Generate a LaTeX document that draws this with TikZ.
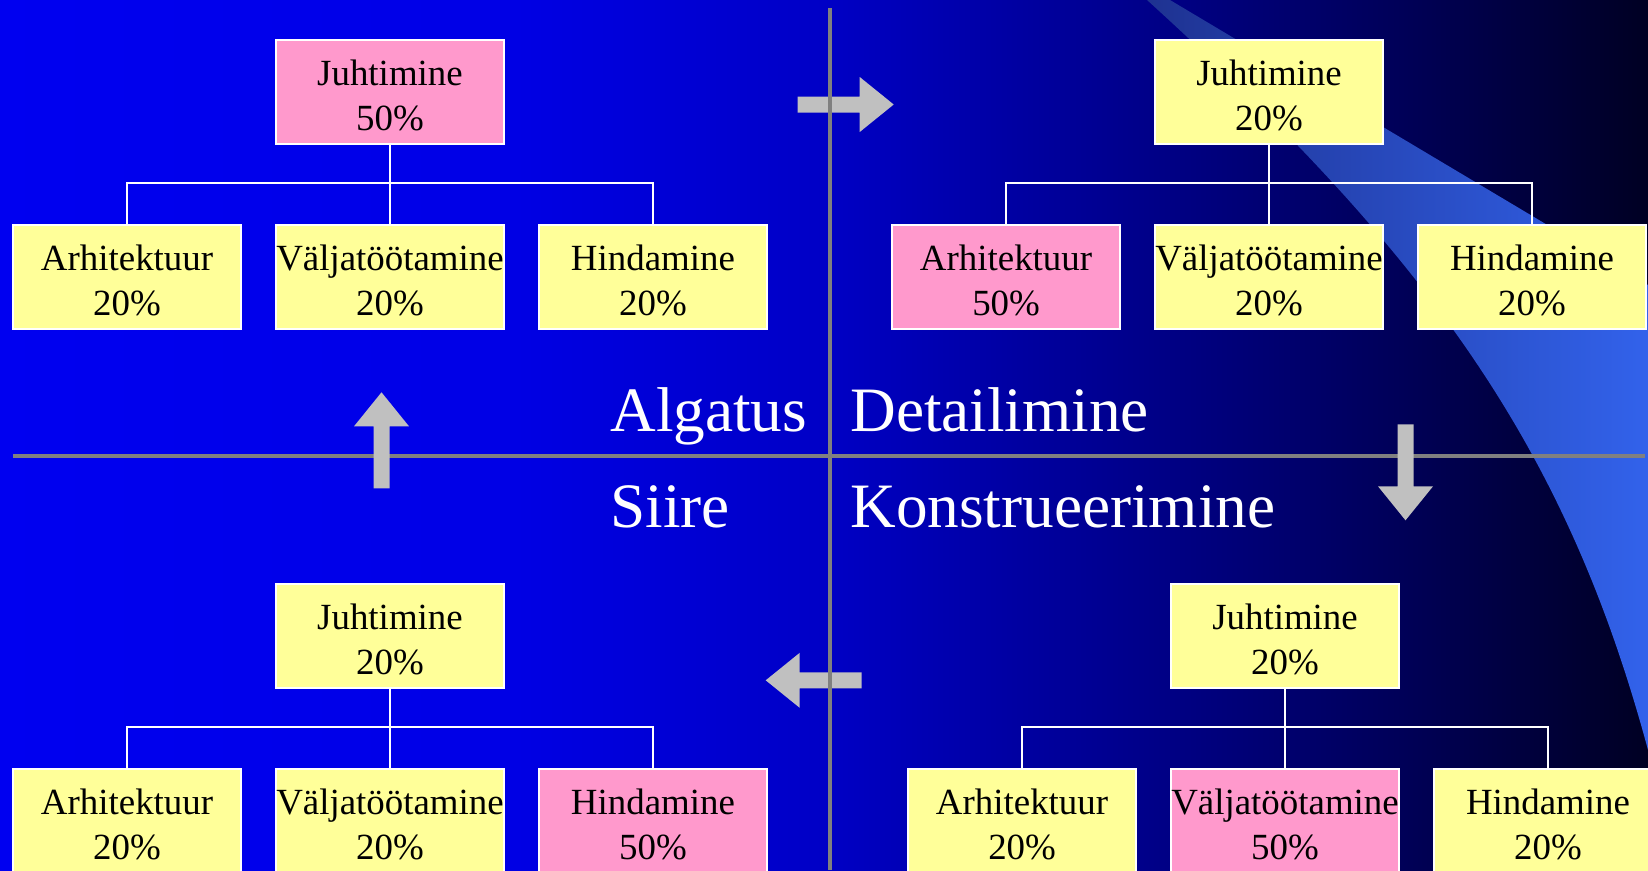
\documentclass[tikz,border=0pt]{standalone}
\usepackage{fontspec}
\setmainfont{Liberation Serif}
\usetikzlibrary{positioning}
\definecolor{bgA}{RGB}{0,0,240}
\definecolor{bgB}{RGB}{0,0,230}
\definecolor{bgC}{RGB}{0,0,198}
\definecolor{bgD}{RGB}{0,0,145}
\definecolor{bgE}{RGB}{0,0,88}
\definecolor{bgF}{RGB}{0,0,35}
\definecolor{swA}{RGB}{30,50,145}
\definecolor{swB}{RGB}{50,98,235}
\definecolor{boxyellow}{RGB}{255,255,153}
\definecolor{boxpink}{RGB}{255,153,204}
\definecolor{linegray}{RGB}{128,128,128}
\definecolor{arrowgray}{RGB}{192,192,192}
\pgfdeclarehorizontalshading{bgfade}{100bp}{color(0bp)=(bgA); color(25bp)=(bgA);
    color(40bp)=(bgB); color(50bp)=(bgC); color(58.5bp)=(bgD); color(67.5bp)=(bgE);
    color(75bp)=(bgF); color(100bp)=(bgF)}
\tikzset{
    box/.style={draw=white, line width=1.3pt, fill=boxyellow, minimum width=4.56cm,
        minimum height=2.08cm, inner sep=0pt, align=center, text height=44.2pt,
        font=\fontsize{21}{25.5}\selectfont}, % Work package box
    hot/.style={box, fill=boxpink}, % The package that dominates the phase
    link/.style={draw=white, line width=1.1pt},
    phase/.style={text=white, inner sep=0pt, anchor=base west,
        font=\fontsize{36}{40}\selectfont},
    divider/.style={draw=linegray, line width=2.8pt},
    pics/flow/.style={code={
        \fill[arrowgray] (0,-8) -- (62,-8) -- (62,-27.5) -- (96,0) -- (62,27.5)
            -- (62,8) -- (0,8) -- cycle;}},
}

\begin{document}
\begin{tikzpicture}[x=0.02cm, y=-0.02cm, node distance=5.26cm]
    \useasboundingbox (0,0) rectangle (1648,870);
    \shade[shading=bgfade] (0,0) rectangle (1648,870);
    \shade[left color=swA, right color=swB] (1147,0) -- (1170,0) -- (1648,285)
        -- (1648,750) .. controls (1567,450) and (1433,260) .. (1147,0) -- cycle;

    % quadrants
    \draw[divider] (13,456) -- (1645,456);
    \pic at (797.7,104.5) {flow};
    \pic[rotate=-90] at (1405.5,424.3) {flow};
    \pic[rotate=180] at (861.7,680.3) {flow};
    \pic[rotate=90] at (381.5,488.3) {flow};
    \draw[divider] (830,8) -- (830,870);

    \node[phase] (alg) at (610,431) {Algatus};
    \node[phase] (det) at (850,431) {Detailimine};
    \node[phase] (sii) at (610,527) {Siire};
    \node[phase] (kon) at (850,527) {Konstrueerimine};

    % Algatus
    \node[hot] (j1) at (390,92) {Juhtimine\\50\%};
    \node[box] (v1) [below of=j1, node distance=3.7cm] {Väljatöötamine\\20\%};
    \node[box] (a1) [left of=v1] {Arhitektuur\\20\%};
    \node[box] (h1) [right of=v1] {Hindamine\\20\%};
    \draw[link] (j1) -- (v1);
    \draw[link] (a1.north) -- ++(0,-41) -| (h1.north);

    % Detailimine
    \node[box] (j2) at (1269,92) {Juhtimine\\20\%};
    \node[box] (v2) [below of=j2, node distance=3.7cm] {Väljatöötamine\\20\%};
    \node[hot] (a2) [left of=v2] {Arhitektuur\\50\%};
    \node[box] (h2) [right of=v2] {Hindamine\\20\%};
    \draw[link] (j2) -- (v2);
    \draw[link] (a2.north) -- ++(0,-41) -| (h2.north);

    % Siire
    \node[box] (j3) at (390,636) {Juhtimine\\20\%};
    \node[box] (v3) [below of=j3, node distance=3.7cm] {Väljatöötamine\\20\%};
    \node[box] (a3) [left of=v3] {Arhitektuur\\20\%};
    \node[hot] (h3) [right of=v3] {Hindamine\\50\%};
    \draw[link] (j3) -- (v3);
    \draw[link] (a3.north) -- ++(0,-41) -| (h3.north);

    % Konstrueerimine
    \node[box] (j4) at (1285,636) {Juhtimine\\20\%};
    \node[hot] (v4) [below of=j4, node distance=3.7cm] {Väljatöötamine\\50\%};
    \node[box] (a4) [left of=v4] {Arhitektuur\\20\%};
    \node[box] (h4) [right of=v4] {Hindamine\\20\%};
    \draw[link] (j4) -- (v4);
    \draw[link] (a4.north) -- ++(0,-41) -| (h4.north);
\end{tikzpicture}
\end{document}
